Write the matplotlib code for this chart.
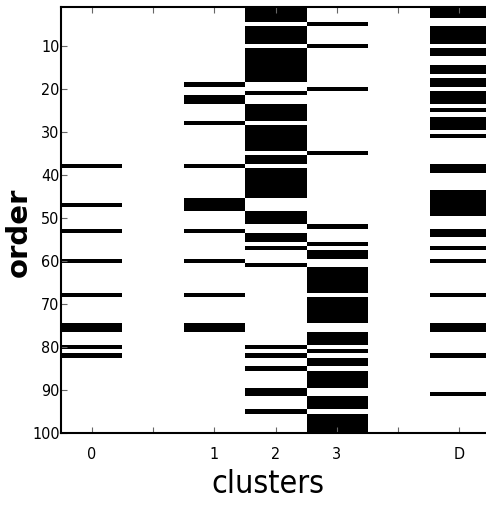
import matplotlib
matplotlib.use('Agg')
import matplotlib.pyplot as plt
from matplotlib import font_manager
import numpy as np

# rows (1..100) that are black in each cluster column
rows_0 = [38, 47, 53, 60, 68, 75, 76, 80, 82]
rows_1 = [19, 22, 23, 28, 38, 46, 47, 48, 53, 60, 68, 75, 76]
rows_2 = [1, 2, 3, 4, 6, 7, 8, 9, 11, 12, 13, 14, 15, 16, 17, 18, 21,
          24, 25, 26, 27, 29, 30, 31, 32, 33, 34, 36, 37,
          39, 40, 41, 42, 43, 44, 45, 49, 50, 51, 54, 55, 57, 61,
          80, 82, 85, 90, 91, 95]
rows_3 = [5, 10, 20, 35, 52, 56, 58, 59, 62, 63, 64, 65, 66, 67,
          69, 70, 71, 72, 73, 74, 77, 78, 79, 81, 83, 84,
          86, 87, 88, 89, 92, 93, 94, 96, 97, 98, 99, 100]
rows_D = [1, 2, 3, 6, 7, 8, 9, 11, 12, 15, 16, 18, 19, 21, 22, 23, 25,
          27, 28, 29, 31, 38, 39, 44, 45, 46, 47, 48, 49, 53, 54, 57,
          60, 68, 75, 76, 82, 91]

# column layout: empty columns between groups
columns = [rows_0, [], rows_1, rows_2, rows_3, [], rows_D]
xlabels = ['0', '', '1', '2', '3', '', 'D']
n_rows = 100

img = np.zeros((n_rows, len(columns)))
for j, rows in enumerate(columns):
    for r in rows:
        img[r - 1, j] = 1

# pick a narrow font if one is there
fonts = font_manager.fontManager.ttflist
names = {f.name for f in fonts}
if 'Liberation Sans Narrow' in names:
    narrow = dict(family='Liberation Sans Narrow')
elif any(f.name == 'DejaVu Sans' and f.stretch == 'condensed' for f in fonts):
    narrow = dict(family='DejaVu Sans', stretch='condensed')
else:
    narrow = dict(family='Liberation Sans')

fig = plt.figure(figsize=(4.86, 5.15), dpi=100)
ax = fig.add_axes([61 / 486, 1 - 433 / 515, 429 / 486, 426 / 515])

ax.imshow(img, cmap='gray_r', interpolation='nearest', aspect='auto',
          extent=(-0.5, len(columns) - 0.5, n_rows + 0.5, 0.5), vmin=0, vmax=1)
ax.set_ylim(100, 1)
ax.set_xlim(-0.5, len(columns) - 0.5)

ax.set_yticks(np.arange(10, 101, 10))
ax.set_xticks(np.arange(len(columns)))
ax.set_xticklabels(xlabels)
for lab in ax.get_xticklabels() + ax.get_yticklabels():
    lab.set_fontproperties(font_manager.FontProperties(size=11.5, **narrow))

ax.tick_params(axis='both', direction='in', length=4, width=0.8,
               color='0.4', top=True, right=False)
ax.tick_params(axis='x', pad=10)
ax.tick_params(axis='y', pad=1)

for s in ax.spines.values():
    s.set_linewidth(1.5)
    s.set_color('black')

ax.set_xlabel('clusters', fontproperties=font_manager.FontProperties(size=23, **narrow))
ax.xaxis.set_label_coords(0.483, -0.085)
ax.set_ylabel('order', family='DejaVu Sans', weight='bold', fontsize=21)
ax.yaxis.set_label_coords(-0.065, 0.472)

fig.savefig('out.png', dpi=100)
